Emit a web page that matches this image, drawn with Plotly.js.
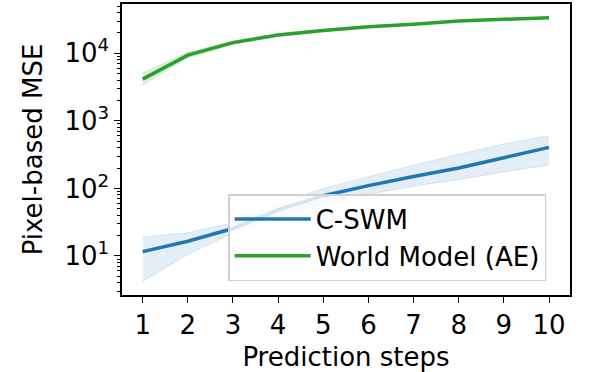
<!DOCTYPE html>
<html>
<head>
<meta charset="utf-8">
<script src="https://cdn.plot.ly/plotly-3.0.1.min.js"></script>
<style>
  body { margin: 0; background: #fff; }
  #chart { width: 598px; height: 372px; }
</style>
</head>
<body>
<div id="chart"></div>
<script>
var steps = [1, 2, 3, 4, 5, 6, 7, 8, 9, 10];

// C-SWM
var cswmMean = [11.6, 16.5, 25.5, 48, 78, 110, 150, 200, 285, 405];
var cswmLow = [4.2, 10.5, 22, 38, 60, 82, 108, 135, 175, 223];
var cswmHigh = [19, 22, 31, 58, 100, 150, 220, 320, 455, 600];

// World Model (AE)
var wmMean = [4150, 9400, 14400, 18700, 21800, 24700, 27000, 30000, 31900, 33600];
var wmLow = [3400, 8600, 13600, 17900, 21000, 23900, 26200, 29200, 31100, 32800];
var wmHigh = [5100, 10300, 15300, 19500, 22600, 25500, 27800, 30800, 32700, 34400];

var yTickVals = [10, 100, 1000, 10000];
var yTickText = ['10<sup>1</sup>', '10<sup>2</sup>', '10<sup>3</sup>', '10<sup>4</sup>'];

// minor log ticks 2..9 in each decade
var yMinorVals = [];
[1, 10, 100, 1000, 10000].forEach(function (d) {
    for (var k = 2; k <= 9; k++) yMinorVals.push(k * d);
});

function band(lo, hi, fillColor, edgeColor) {
    return [{
        x: steps, y: lo, type: 'scatter', mode: 'lines',
        line: { color: edgeColor, width: 1 },
        showlegend: false, hoverinfo: 'skip'
    }, {
        x: steps, y: hi, type: 'scatter', mode: 'lines',
        line: { color: edgeColor, width: 1 },
        fill: 'tonexty', fillcolor: fillColor,
        showlegend: false, hoverinfo: 'skip'
    }];
}

var data = []
    .concat(band(cswmLow, cswmHigh, 'rgba(31,119,180,0.12)', 'rgba(31,119,180,0.15)'))
    .concat(band(wmLow, wmHigh, 'rgba(44,160,44,0.15)', 'rgba(44,160,44,0.2)'))
    .concat([{
        x: steps, y: cswmMean, type: 'scatter', mode: 'lines',
        name: 'C-SWM',
        line: { color: '#1f77b4', width: 3.5 }
    }, {
        x: steps, y: wmMean, type: 'scatter', mode: 'lines',
        name: 'World Model (AE)',
        line: { color: '#2ca02c', width: 3.5 }
    }]);

var font = { family: 'DejaVu Sans, sans-serif', size: 26, color: '#000' };

var layout = {
    width: 598,
    height: 372,
    margin: { l: 122, r: 28, t: 4, b: 77 },
    paper_bgcolor: '#fff',
    plot_bgcolor: '#fff',
    font: font,
    showlegend: true,
    legend: {
        x: 0.237, y: 0.347, xanchor: 'left', yanchor: 'top',
        traceorder: 'normal',
        bgcolor: 'rgba(255,255,255,0.8)',
        bordercolor: '#d0d0d0', borderwidth: 1.5,
        font: font,
        itemwidth: 76,
        tracegroupgap: 0
    },
    xaxis: {
        range: [0.542, 10.465],
        tickvals: steps,
        ticks: 'outside', ticklen: 6, tickwidth: 1.3, tickcolor: '#000',
        showline: true, linecolor: '#000', linewidth: 1.5, mirror: true,
        showgrid: false, zeroline: false,
        title: { text: 'Prediction steps', font: font, standoff: 15 }
    },
    yaxis: {
        type: 'log',
        range: [0.422, 4.73],
        tickvals: yTickVals,
        ticktext: yTickText,
        ticks: 'outside', ticklen: 6, tickwidth: 1.3, tickcolor: '#000',
        minor: {
            tickmode: 'array', tickvals: yMinorVals,
            ticks: 'outside', ticklen: 3.5, tickwidth: 1, tickcolor: '#000', showgrid: false
        },
        showline: true, linecolor: '#000', linewidth: 1.5, mirror: true,
        showgrid: false, zeroline: false,
        title: { text: 'Pixel-based MSE', font: font, standoff: 14 }
    }
};

Plotly.newPlot('chart', data, layout, { displayModeBar: false });
</script>
</body>
</html>
